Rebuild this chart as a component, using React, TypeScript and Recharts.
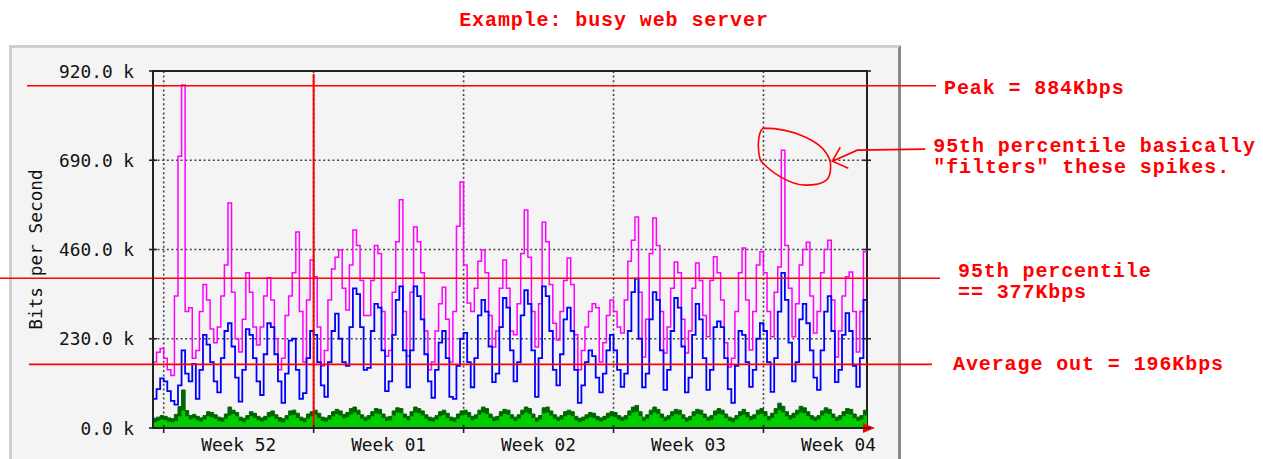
import {
  Area,
  CartesianGrid,
  ComposedChart,
  Line,
  ReferenceArea,
  ReferenceDot,
  ReferenceLine,
  XAxis,
  YAxis,
} from "recharts";

// MRTG-style monthly graph: one sample every 4 hours, 0..800 h.
const STEP_HOURS = 4;
const HOURS = 800;

const yTicks = [0, 230, 460, 690, 920];
const weekTicks = [12, 180, 348, 516, 684];
const weekLabels = ["Week 52", "Week 01", "Week 02", "Week 03", "Week 04"];

// k bits/s
const avgOut = [
  75, 100, 128, 120, 95, 70, 60, 110, 200, 140,
  120, 165, 75, 150, 240, 215, 170, 120, 92, 180,
  250, 270, 210, 130, 68, 150, 255, 240, 180, 120,
  85, 190, 270, 260, 190, 120, 65, 140, 225, 230,
  150, 75, 90, 180, 250, 240, 170, 110, 80, 170,
  250, 295, 230, 170, 160, 260, 360, 345, 260, 150,
  155, 250, 320, 310, 200, 95, 120, 240, 330, 365,
  200, 105, 200, 365, 340, 280, 190, 120, 78, 150,
  220, 250, 180, 80, 75, 160, 230, 245, 170, 105,
  180, 290, 330, 300, 210, 118, 140, 260, 335, 310,
  200, 120, 170, 290, 355, 320, 200, 80, 180, 365,
  340, 250, 150, 110, 190, 280, 310, 250, 150, 65,
  110, 170, 200, 185, 130, 92, 140, 200, 240, 200,
  150, 106, 140, 250, 350, 385, 230, 105, 140, 280,
  350, 330, 200, 98, 150, 250, 335, 310, 210, 92,
  130, 240, 320, 280, 180, 98, 150, 260, 275, 260,
  180, 100, 65, 160, 250, 240, 170, 106, 150, 230,
  270, 250, 170, 93, 180, 300, 400, 330, 220, 120,
  170, 280, 320, 270, 200, 130, 98, 200, 300, 340,
  250, 118, 150, 240, 296, 250, 160, 106, 180, 330,
  330,
];

const maxOut = [
  170, 195, 205, 180, 150, 135, 340, 700, 884, 300,
  310, 180, 200, 300, 370, 330, 255, 220, 260, 340,
  420, 580, 350, 230, 196, 280, 400, 350, 260, 214,
  260, 340, 387, 330, 230, 150, 180, 290, 340, 400,
  505, 300, 170, 330, 433, 390, 260, 160, 200, 330,
  410, 440, 459, 360, 304, 420, 510, 470, 380, 290,
  290, 380, 470, 450, 300, 185, 200, 350, 480, 588,
  300, 185, 350, 518, 480, 400, 250, 150, 170, 250,
  320, 363, 280, 170, 300, 520, 634, 420, 322, 300,
  360, 430, 459, 400, 290, 209, 250, 360, 433, 360,
  250, 240, 320, 450, 562, 440, 300, 209, 320, 530,
  480, 370, 270, 227, 300, 380, 438, 370, 240, 150,
  200, 260, 300, 320, 310, 170, 220, 290, 330, 300,
  260, 245, 330, 430, 484, 544, 350, 183, 280, 450,
  541, 470, 300, 193, 260, 360, 428, 400, 280, 193,
  250, 360, 425, 380, 290, 235, 380, 441, 400, 330,
  220, 157, 180, 300, 400, 464, 330, 201, 300, 420,
  454, 400, 300, 235, 350, 415, 716, 470, 360, 235,
  320, 420, 460, 479, 340, 245, 300, 400, 460, 484,
  330, 183, 250, 340, 390, 402, 300, 196, 300, 454,
  454,
];

const avgIn = [
  15, 18, 22, 20, 16, 14, 18, 30, 45, 30,
  22, 25, 20, 16, 22, 30, 28, 24, 18, 16,
  24, 32, 36, 30, 18, 15, 22, 30, 26, 20,
  16, 20, 28, 30, 24, 17, 14, 22, 32, 34,
  26, 18, 15, 24, 30, 34, 26, 18, 16, 22,
  30, 36, 32, 25, 28, 35, 40, 34, 24, 18,
  22, 30, 38, 36, 26, 18, 20, 32, 40, 38,
  26, 20, 30, 40, 38, 32, 24, 18, 16, 22,
  30, 34, 26, 18, 16, 24, 32, 34, 28, 20,
  24, 34, 40, 36, 26, 18, 20, 30, 36, 34,
  24, 18, 24, 34, 40, 36, 26, 16, 22, 38,
  40, 32, 24, 18, 22, 30, 34, 30, 20, 15,
  18, 24, 28, 26, 20, 16, 20, 26, 30, 28,
  22, 18, 22, 32, 40, 42, 30, 18, 24, 34,
  40, 36, 26, 18, 22, 30, 36, 34, 24, 16,
  20, 30, 36, 34, 26, 18, 22, 32, 36, 34,
  26, 18, 15, 22, 30, 34, 28, 20, 24, 34,
  36, 30, 20, 26, 36, 46, 40, 30, 22, 26,
  34, 40, 38, 30, 22, 18, 22, 32, 38, 36,
  26, 18, 22, 30, 36, 34, 26, 18, 22, 32,
  32,
];

const maxIn = [
  25, 28, 32, 30, 26, 24, 35, 55, 98, 45,
  32, 35, 30, 26, 32, 42, 40, 34, 28, 26,
  36, 54, 46, 40, 28, 25, 32, 42, 38, 30,
  26, 30, 40, 44, 34, 27, 24, 32, 44, 46,
  38, 28, 25, 36, 42, 46, 38, 28, 26, 32,
  42, 48, 44, 35, 40, 50, 54, 46, 34, 28,
  32, 42, 50, 48, 36, 28, 30, 44, 52, 50,
  36, 30, 42, 54, 50, 44, 34, 28, 26, 32,
  42, 46, 38, 28, 26, 36, 44, 46, 40, 30,
  34, 46, 54, 50, 36, 28, 30, 42, 48, 46,
  34, 28, 34, 46, 54, 50, 36, 26, 32, 52,
  54, 44, 34, 28, 32, 42, 46, 42, 30, 25,
  28, 34, 40, 38, 30, 26, 30, 38, 42, 40,
  32, 28, 32, 44, 54, 58, 42, 28, 34, 46,
  54, 48, 36, 28, 32, 42, 48, 46, 34, 26,
  30, 42, 48, 46, 36, 28, 32, 44, 50, 46,
  36, 28, 25, 32, 42, 48, 40, 30, 34, 46,
  50, 42, 30, 38, 50, 64, 56, 42, 32, 38,
  46, 56, 52, 42, 32, 28, 32, 44, 52, 48,
  36, 28, 32, 42, 50, 48, 36, 28, 32, 46,
  46,
];

// hand-drawn annotation levels (where the red lines sit in the picture)
const PEAK_LINE = 882;
const P95_LINE = 386;
const AVG_LINE = 164;
const MARK_HOUR = 180;
const SPIKE_HOUR = 704;
const SPIKE_VALUE = 716;

const data = avgOut.map((v, i) => ({
  t: i * STEP_HOURS,
  avgOut: v,
  maxOut: maxOut[i],
  avgIn: avgIn[i],
  maxIn: maxIn[i],
}));

const PLOT_LEFT = 153;
const PLOT_RIGHT = 867;
const PLOT_BOTTOM = 428;
const HALF_WEEK_PX = ((PLOT_RIGHT - PLOT_LEFT) / HOURS) * 84;

const RED = "#ff0000";
const axisFont = {
  fontFamily: "'DejaVu Sans Mono', monospace",
  fontSize: 17.8,
  fill: "#111",
};
const noteFont = {
  fontFamily: "'Liberation Mono', monospace",
  fontSize: 20,
  letterSpacing: 0.9,
  fontWeight: 700,
  fill: RED,
};

function YTick(props: any) {
  const { y, payload } = props;
  return (
    <g>
      <line x1={PLOT_LEFT - 4} x2={PLOT_LEFT + 4} y1={y} y2={y} stroke="#222" strokeWidth={1.6} />
      <line x1={PLOT_RIGHT - 4} x2={PLOT_RIGHT + 4} y1={y} y2={y} stroke="#222" strokeWidth={1.6} />
      <text x={PLOT_LEFT - 19} y={y + 6.5} textAnchor="end" style={axisFont}>
        {`${Number(payload.value).toFixed(1)} k`}
      </text>
    </g>
  );
}

function WeekTick(props: any) {
  const { x, payload } = props;
  const label = weekLabels[weekTicks.indexOf(payload.value)];
  return (
    <g>
      <line x1={x} x2={x} y1={PLOT_BOTTOM - 3} y2={PLOT_BOTTOM + 5} stroke="#222" strokeWidth={1.6} />
      <text x={x + HALF_WEEK_PX} y={PLOT_BOTTOM + 23} textAnchor="middle" style={axisFont}>
        {label}
      </text>
    </g>
  );
}

// red guide line that runs past the plot, with its note on the right
function noteLine(left: number, right: number, lines: string[], dx: number, dys: number[]) {
  return (p: any) => (
    <g>
      <line x1={p.x1 - left} x2={p.x2 + right} y1={p.y1} y2={p.y2} stroke={RED} strokeWidth={1.6} />
      {lines.map((t, i) => (
        <text key={i} x={p.x2 + dx} y={p.y1 + dys[i]} style={noteFont} xmlSpace="preserve">
          {t}
        </text>
      ))}
    </g>
  );
}

function SpikeNote(p: any) {
  const { cx, cy } = p;
  return (
    <g transform={`translate(${cx},${cy})`} fill="none" stroke={RED} strokeWidth={1.6}>
      <path d="M -18 -22 C 9 -22, 44 -10, 49 12 C 51 30, 44 35, 24 35 C 9 35, -11 22, -21 10 C -24 0, -24 -18, -18 -22 Z" />
      <path d="M 144 -1 L 76 0 L 51 11 M 59 -3 L 51 11 L 67 18" />
      <text x={152} y={2} style={noteFont} stroke="none" xmlSpace="preserve">
        95th percentile basically
      </text>
      <text x={152} y={23} style={noteFont} stroke="none" xmlSpace="preserve">
        "filters" these spikes.
      </text>
    </g>
  );
}

function AxisArrow(p: any) {
  const { cx, cy } = p;
  return <path d={`M ${cx - 4} ${cy - 5} L ${cx + 8} ${cy} L ${cx - 4} ${cy + 5} Z`} fill={RED} />;
}

export default function App() {
  return (
    <div style={{ position: "relative", width: 1263, height: 459, overflow: "hidden", background: "#fff" }}>
      <style>{"body{margin:0}"}</style>
      <div
        style={{
          position: "absolute",
          left: 9,
          top: 45,
          width: 892,
          height: 440,
          boxSizing: "border-box",
          background: "#f4f4f4",
          borderLeft: "3px solid #cfcfcf",
          borderTop: "3px solid #cfcfcf",
          borderRight: "3px solid #8a8a8a",
        }}
      />
      <div
        style={{
          position: "absolute",
          left: 0,
          top: 8,
          width: 1228,
          textAlign: "center",
          lineHeight: "26px",
          whiteSpace: "pre",
          fontFamily: "'Liberation Mono', monospace",
          fontSize: 20,
          letterSpacing: 0.9,
          fontWeight: 700,
          color: RED,
        }}
      >
        Example: busy web server
      </div>
      <div style={{ position: "absolute", left: 0, top: 0 }}>
        <ComposedChart
          width={1263}
          height={459}
          data={data}
          margin={{ top: 71, right: 396, bottom: 6, left: 10 }}
        >
          <CartesianGrid stroke="#444" strokeWidth={1.6} strokeDasharray="2 2.6" />
          <XAxis
            type="number"
            dataKey="t"
            domain={[0, HOURS]}
            ticks={weekTicks}
            interval={0}
            tick={<WeekTick />}
            tickLine={false}
            axisLine={{ stroke: "#222", strokeWidth: 2 }}
            height={25}
            allowDataOverflow
          />
          <YAxis
            domain={[0, 920]}
            ticks={yTicks}
            interval={0}
            tick={<YTick />}
            tickLine={false}
            axisLine={{ stroke: "#222", strokeWidth: 2 }}
            width={143}
            allowDataOverflow
            label={(p: any) => {
              const vb = p.viewBox;
              const cx = vb.x + 32;
              const cy = vb.y + vb.height / 2;
              return (
                <text
                  x={cx}
                  y={cy}
                  textAnchor="middle"
                  transform={`rotate(-90, ${cx}, ${cy})`}
                  style={axisFont}
                >
                  Bits per Second
                </text>
              );
            }}
          />
          <ReferenceArea
            x1={0}
            x2={HOURS}
            y1={0}
            y2={920}
            fill="none"
            stroke="#222"
            strokeWidth={2}
            ifOverflow="visible"
          />
          <Area
            type="stepAfter"
            dataKey="maxIn"
            stroke="#006600"
            strokeWidth={1}
            fill="#006600"
            fillOpacity={1}
            isAnimationActive={false}
          />
          <Area
            type="stepAfter"
            dataKey="avgIn"
            stroke="none"
            fill="#00cc00"
            fillOpacity={1}
            isAnimationActive={false}
          />
          <Line
            type="stepAfter"
            dataKey="maxOut"
            stroke="#ff00ff"
            strokeWidth={1.5}
            dot={false}
            activeDot={false}
            isAnimationActive={false}
          />
          <Line
            type="stepAfter"
            dataKey="avgOut"
            stroke="#0000ff"
            strokeWidth={1.8}
            dot={false}
            activeDot={false}
            isAnimationActive={false}
          />
          <ReferenceLine
            x={MARK_HOUR}
            shape={(p: any) => (
              <line x1={p.x1} x2={p.x2} y1={p.y1} y2={p.y2 + 3} stroke={RED} strokeWidth={2} />
            )}
          />
          <ReferenceLine y={PEAK_LINE} shape={noteLine(126, 69, ["Peak = 884Kbps"], 77, [8])} />
          <ReferenceLine
            y={P95_LINE}
            shape={noteLine(153, 73, ["95th percentile", "== 377Kbps"], 91, [-1, 20])}
          />
          <ReferenceLine y={AVG_LINE} shape={noteLine(124, 65, ["Average out = 196Kbps"], 86, [6])} />
          <ReferenceDot x={SPIKE_HOUR} y={SPIKE_VALUE} ifOverflow="visible" shape={<SpikeNote />} />
          <ReferenceDot x={HOURS} y={0} ifOverflow="visible" shape={<AxisArrow />} />
        </ComposedChart>
      </div>
    </div>
  );
}
